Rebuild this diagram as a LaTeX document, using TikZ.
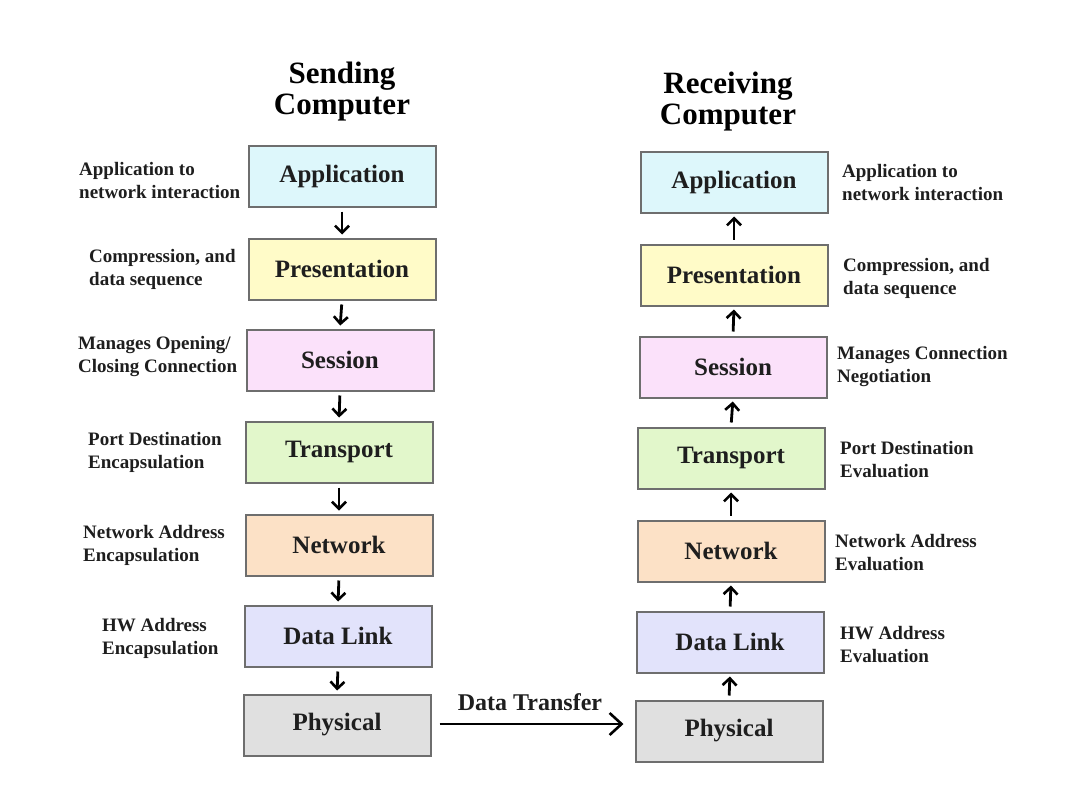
\documentclass[tikz,border=0pt]{standalone}
\usepackage{fontspec}
\setmainfont{Liberation Serif}
\usetikzlibrary{arrows.meta}
\definecolor{cApp}{HTML}{DDF7FB}
\definecolor{cPres}{HTML}{FFFBC8}
\definecolor{cSess}{HTML}{FBE1FA}
\definecolor{cTrans}{HTML}{E2F7CB}
\definecolor{cNet}{HTML}{FCE1C6}
\definecolor{cDL}{HTML}{E2E3FB}
\definecolor{cPhys}{HTML}{E0E0E0}
\definecolor{cBorder}{HTML}{6E6E6E}
\definecolor{cText}{HTML}{1E1E1E}
\tikzset{
  layer/.style={draw=cBorder, line width=2pt, minimum width=187pt, minimum height=61pt,
    inner sep=0pt, text=cText, font=\fontsize{25}{27}\selectfont\bfseries},
  sidelabel/.style={align=left, inner sep=0pt, text=cText,
    font=\fontsize{19}{23}\selectfont\bfseries},
  ttl/.style={align=center, inner sep=0pt, text=black,
    font=\fontsize{31}{31}\selectfont\bfseries},
  stackarrow/.style={line width=2.8pt, -{Straight Barb[length=7pt,width=14pt,line width=2.6pt]},
    shorten <=4pt, shorten >=3pt},
  xferarrow/.style={line width=2.8pt, -{Straight Barb[length=12pt,width=22pt,line width=2.6pt]}}
}
\begin{document}
\begin{tikzpicture}[x=1pt,y=-1pt]
\useasboundingbox[fill=white] (0,0) rectangle (1084,803);

% titles
\node[ttl] (tS) at (342,92) {Sending\\Computer};
\node[ttl] (tR) at (728,102) {Receiving\\Computer};

% sending stack
\node[layer, fill=cApp]   (LApp)  at (342,176) {Application};
\node[layer, fill=cPres]  (LPres) at (342,269) {Presentation};
\node[layer, fill=cSess]  (LSess) at (340,360) {Session};
\node[layer, fill=cTrans] (LTr)   at (339,452) {Transport};
\node[layer, fill=cNet]   (LNet)  at (339,545) {Network};
\node[layer, fill=cDL]    (LDL)   at (338,636) {Data Link};
\node[layer, fill=cPhys]  (LPhy)  at (337,725) {Physical};

% receiving stack
\node[layer, fill=cApp]   (RApp)  at (734,182) {Application};
\node[layer, fill=cPres]  (RPres) at (734,275) {Presentation};
\node[layer, fill=cSess]  (RSess) at (733,367) {Session};
\node[layer, fill=cTrans] (RTr)   at (731,458) {Transport};
\node[layer, fill=cNet]   (RNet)  at (731,551) {Network};
\node[layer, fill=cDL]    (RDL)   at (730,642) {Data Link};
\node[layer, fill=cPhys]  (RPhy)  at (729,731) {Physical};

% left labels
\node[sidelabel, anchor=west] (la1) at (79,180)  {Application to\\network interaction};
\node[sidelabel, anchor=west] (la2) at (89,269)  {Compression, and\\data sequence};
\node[sidelabel, anchor=west] (la3) at (78,357)  {Manages Opening/\\Closing Connection};
\node[sidelabel, anchor=west] (la4) at (88,452)  {Port Destination\\Encapsulation};
\node[sidelabel, anchor=west] (la5) at (83,545)  {Network Address\\Encapsulation};
\node[sidelabel, anchor=west] (la6) at (102,638) {HW Address\\Encapsulation};

% right labels
\node[sidelabel, anchor=west] (ra1) at (842,182) {Application to\\network interaction};
\node[sidelabel, anchor=west] (ra2) at (843,278) {Compression, and\\data sequence};
\node[sidelabel, anchor=west] (ra3) at (837,366) {Manages Connection\\Negotiation};
\node[sidelabel, anchor=west] (ra4) at (840,460) {Port Destination\\Evaluation};
\node[sidelabel, anchor=west] (ra5) at (835,553) {Network Address\\Evaluation};
\node[sidelabel, anchor=west] (ra6) at (840,645) {HW Address\\Evaluation};

% sending arrows (down)
\draw[stackarrow] (LApp.south)  -- (LPres.north);
\draw[stackarrow] (LPres.south) -- (LSess.north);
\draw[stackarrow] (LSess.south) -- (LTr.north);
\draw[stackarrow] (LTr.south)   -- (LNet.north);
\draw[stackarrow] (LNet.south)  -- (LDL.north);
\draw[stackarrow] (LDL.south)   -- (LPhy.north);

% receiving arrows (up)
\draw[stackarrow] (RPhy.north)  -- (RDL.south);
\draw[stackarrow] (RDL.north)   -- (RNet.south);
\draw[stackarrow] (RNet.north)  -- (RTr.south);
\draw[stackarrow] (RTr.north)   -- (RSess.south);
\draw[stackarrow] (RSess.north) -- (RPres.south);
\draw[stackarrow] (RPres.north) -- (RApp.south);

% data transfer
\coordinate (xs) at ([xshift=8pt,yshift=1pt]LPhy.east);
\coordinate (xe) at (RPhy.west |- xs);
\draw[xferarrow] (xs) -- ([xshift=-11pt]xe);
\node[inner sep=0pt, text=cText, font=\fontsize{24}{26}\selectfont\bfseries] (dt) at (530,702) {Data Transfer};
\end{tikzpicture}
\end{document}
